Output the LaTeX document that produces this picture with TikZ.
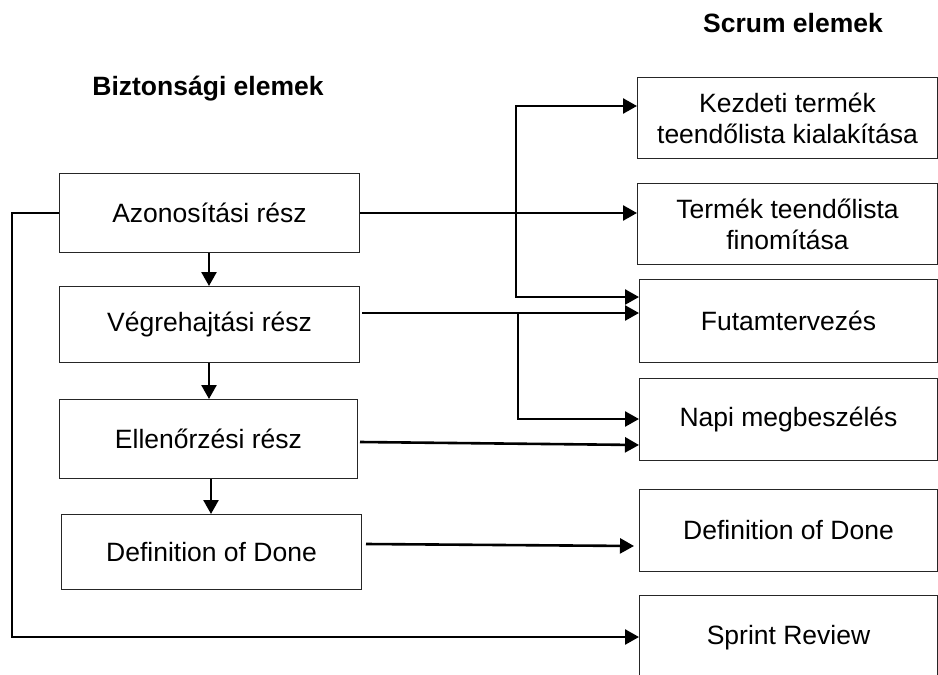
\documentclass[tikz,border=0pt]{standalone}
\usepackage{fontspec}
\setmainfont{Liberation Sans}
\usetikzlibrary{arrows.meta,calc}
\begin{document}
\begin{tikzpicture}[x=1pt,y=-1pt,
  box/.style={draw=black!85,line width=1pt,anchor=north west,inner sep=0pt,align=center,
    font=\fontsize{26.5}{31}\selectfont},
  conn/.style={line width=2.6pt,draw=black},
  arr/.style={conn,-{Triangle[length=14pt,width=15pt]}},
  darr/.style={conn,{Triangle[length=14pt,width=15pt]}-{Triangle[length=14pt,width=15pt]}},
  head/.style={font=\fontsize{26.5}{31}\selectfont\bfseries}]
\useasboundingbox (0,0) rectangle (938,675);
\clip (0,0) rectangle (938,675);
% headings
\node[head] (h1) at (208,89) {Biztonsági elemek};
\node[head] (h2) at (793,23) {Scrum elemek};
% left column
\node[box,minimum width=300pt,minimum height=79pt] (az) at (59,173) {Azonosítási rész};
\node[box,minimum width=300pt,minimum height=76pt] (vg) at (59,286) {Végrehajtási rész};
\node[box,minimum width=298pt,minimum height=79pt] (el) at (59,399) {Ellenőrzési rész};
\node[box,minimum width=300pt,minimum height=75pt] (dod) at (61,514) {Definition of Done};
% right column
\node[box,minimum width=300pt,minimum height=81pt] (k) at (637,77) {Kezdeti termék\\teendőlista kialakítása};
\node[box,minimum width=300pt,minimum height=81pt] (t) at (637,183) {Termék teendőlista\\finomítása};
\node[box,minimum width=298pt,minimum height=83pt] (f) at (639,279) {Futamtervezés};
\node[box,minimum width=298pt,minimum height=82pt] (n) at (639,378) {Napi megbeszélés};
\node[box,minimum width=298pt,minimum height=82pt] (d2) at (639,489) {Definition of Done};
\node[box,minimum width=298pt,minimum height=84pt] (s) at (639,595) {Sprint Review};
% vertical chain
\draw[arr] (az.south -| 209,0) -- (vg.north -| 209,0);
\draw[arr] (vg.south -| 209,0) -- (el.north -| 209,0);
\draw[arr] (el.south -| 211,0) -- (dod.north -| 211,0);
% Azonositasi -> Termek, with branch
\draw[arr] (az.east) -- (az.east -| t.west);
\coordinate (ja) at (516,106);
\coordinate (jb) at (516,297);
\draw[darr] (ja -| k.west) -- (ja) -- (jb) -- (jb -| f.west);
% Vegrehajtasi -> Futam, with branch to Napi
\coordinate (v1) at (362,313);
\draw[arr] (v1) -- (v1 -| f.west);
\coordinate (jc) at (518,313);
\coordinate (jd) at (518,419);
\draw[arr] (jc) -- (jd) -- (jd -| n.west);
% Ellenorzesi -> Napi
\coordinate (e1) at (360,442);
\coordinate (e2) at (639,445);
\draw[arr] (e1) -- (e2);
% DoD -> DoD
\coordinate (g1) at (366,544);
\coordinate (g2) at (634,546);
\draw[arr] (g1) -- (g2);
% loop to Sprint Review
\coordinate (l1) at (12,213);
\coordinate (l2) at (12,637);
\draw[arr] (az.west) -- (l1) -- (l2) -- (l2 -| s.west);
\end{tikzpicture}
\end{document}
